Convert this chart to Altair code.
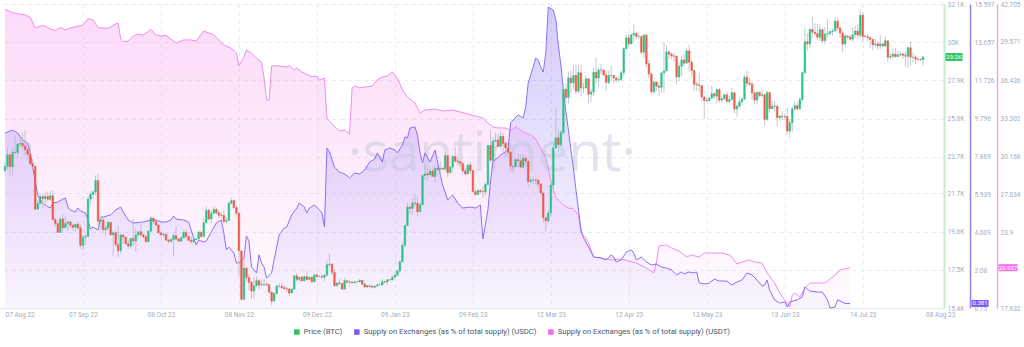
import altair as alt
import pandas as pd
import numpy as np

FONT = "Roboto"
START = pd.Timestamp("2022-08-07")

# ---------------- BTC daily candles (values in thousands USD) ----------------
close_aug22 = [23.18, 23.81, 23.16, 23.95, 23.94, 24.40, 24.44, 24.31, 24.10, 23.85,
               23.34, 23.19, 20.83, 21.14, 21.52, 21.40, 21.53, 21.37, 21.57, 20.26,
               20.04, 19.55, 20.29, 19.81, 20.05]
high_aug22 = [23.40, 24.23, 23.90, 24.13, 24.90, 24.45, 24.88, 25.05, 25.21, 24.23,
              24.43, 23.60, 23.21, 21.35, 21.68, 21.70, 21.80, 21.80, 21.80, 21.87,
              20.35, 20.14, 20.39, 20.54, 20.47]
low_aug22 = [22.86, 23.00, 22.66, 22.70, 23.85, 23.63, 24.22, 24.11, 23.81, 23.60,
             23.23, 23.11, 20.78, 20.80, 21.08, 20.92, 21.05, 21.16, 21.27, 20.20,
             19.86, 19.54, 19.63, 19.62, 19.81]

close_sep22 = [20.13, 19.95, 19.83, 20.00, 19.80, 18.84, 19.29, 19.32, 21.38, 21.65,
               21.78, 22.40, 20.17, 20.24, 19.70, 19.80, 20.11, 19.42, 19.54, 18.89,
               18.55, 19.41, 19.30, 18.93, 18.80, 19.22, 19.08, 19.41, 19.59, 19.42]
high_sep22 = [20.20, 20.20, 20.02, 20.02, 20.15, 20.00, 19.43, 19.45, 21.54, 21.80,
              21.85, 22.68, 22.78, 20.48, 20.33, 19.93, 20.18, 20.12, 19.64, 19.63,
              19.92, 19.49, 19.48, 19.31, 19.16, 19.26, 20.31, 19.75, 19.62, 20.13]
low_sep22 = [19.63, 19.76, 19.65, 19.60, 19.67, 18.68, 18.58, 18.87, 19.30, 21.08,
             21.40, 21.59, 19.92, 19.66, 19.55, 19.37, 19.66, 19.39, 18.27, 18.74,
             18.20, 18.40, 18.93, 18.92, 18.66, 18.68, 18.82, 18.52, 19.25, 19.31]

close_oct22 = [19.31, 19.04, 19.62, 20.34, 20.16, 19.96, 19.53, 19.42, 19.45, 19.13,
               19.06, 19.16, 19.38, 19.19, 19.07, 19.26, 19.55, 19.33, 19.12, 19.04,
               19.16, 19.20, 19.57, 19.33, 20.08, 20.77, 20.29, 20.60, 20.82, 20.63,
               20.50]
high_oct22 = [19.48, 19.40, 19.69, 20.45, 20.36, 20.06, 20.04, 19.60, 19.54, 19.51,
              19.25, 19.21, 19.51, 19.92, 19.22, 19.33, 19.68, 19.68, 19.37, 19.34,
              19.24, 19.26, 19.66, 19.59, 20.32, 21.00, 20.86, 20.74, 20.95, 20.90,
              20.79]
low_oct22 = [19.21, 19.01, 19.00, 19.58, 20.02, 19.88, 19.50, 19.35, 19.32, 19.11,
             18.93, 19.00, 18.21, 19.13, 19.05, 19.07, 19.20, 19.21, 19.08, 18.96,
             18.95, 19.14, 19.15, 19.25, 19.28, 20.05, 20.19, 20.06, 20.61, 20.55,
             20.32]

close_nov22 = [20.48, 20.15, 20.21, 21.15, 21.30, 20.91, 20.60, 18.54, 15.88, 17.59,
               17.07, 16.81, 16.33, 16.62, 16.90, 16.66, 16.69, 16.70, 16.68, 16.28,
               15.78, 16.19, 16.60, 16.60, 16.52, 16.46, 16.44, 16.22, 16.44, 17.17]
high_nov22 = [20.67, 20.78, 20.40, 21.26, 21.45, 21.36, 21.05, 20.67, 18.54, 18.13,
              17.65, 17.26, 16.87, 17.09, 17.13, 17.00, 16.96, 16.99, 16.82, 16.75,
              16.26, 16.26, 16.70, 16.77, 16.80, 16.67, 16.59, 16.48, 16.52, 17.20]
low_nov22 = [20.38, 20.06, 20.07, 20.19, 21.09, 20.88, 20.42, 17.17, 15.78, 15.82,
             16.89, 16.38, 15.90, 15.87, 16.56, 16.43, 16.59, 16.58, 16.57, 16.19,
             15.53, 15.76, 16.17, 16.50, 16.48, 16.41, 16.29, 16.04, 16.24, 16.43]

close_dec22 = [16.97, 17.09, 16.89, 17.13, 16.97, 17.09, 16.84, 17.22, 17.13, 17.13,
               17.09, 17.21, 17.78, 17.81, 17.36, 16.63, 16.78, 16.74, 16.44, 16.90,
               16.82, 16.83, 16.78, 16.84, 16.84, 16.92, 16.71, 16.55, 16.63, 16.60,
               16.54]
high_dec22 = [17.30, 17.10, 17.15, 17.18, 17.40, 17.11, 17.14, 17.27, 17.28, 17.22,
              17.26, 17.24, 18.00, 18.37, 17.85, 17.53, 16.80, 17.00, 16.80, 17.04,
              16.91, 16.92, 16.85, 16.87, 16.86, 16.99, 16.94, 16.77, 16.65, 16.63,
              16.63]
low_dec22 = [16.87, 16.81, 16.88, 16.88, 16.90, 16.91, 16.73, 16.82, 17.08, 17.08,
             17.02, 16.87, 17.10, 17.66, 17.20, 16.57, 16.56, 16.68, 16.40, 16.40,
             16.76, 16.59, 16.75, 16.79, 16.79, 16.81, 16.68, 16.54, 16.51, 16.48,
             16.47]

close_jan23 = [16.61, 16.67, 16.67, 16.85, 16.83, 16.95, 16.94, 17.09, 17.20, 17.44,
               17.94, 18.85, 19.93, 20.95, 20.87, 21.17, 21.16, 20.69, 21.07, 22.67,
               22.78, 22.71, 22.92, 22.63, 23.06, 23.01, 23.08, 23.03, 23.77, 22.84,
               23.14]
high_jan23 = [16.63, 16.76, 16.78, 16.99, 16.88, 16.99, 16.99, 17.18, 17.35, 17.49,
              18.00, 19.04, 19.99, 21.16, 20.99, 21.44, 21.65, 21.56, 21.18, 22.76,
              23.32, 23.06, 23.13, 23.12, 23.24, 23.26, 23.48, 23.13, 23.93, 23.79,
              23.21]
low_jan23 = [16.50, 16.55, 16.63, 16.61, 16.75, 16.67, 16.91, 16.91, 17.09, 17.12,
             17.31, 17.92, 18.72, 19.90, 20.58, 20.55, 20.99, 20.41, 20.68, 21.04,
             22.42, 22.40, 22.71, 22.57, 22.33, 22.87, 22.61, 22.94, 23.01, 22.60,
             22.74]

close_feb23 = [23.72, 23.47, 23.43, 23.33, 22.93, 22.76, 23.26, 22.95, 21.80, 21.63,
               21.86, 21.79, 21.77, 22.20, 24.33, 23.52, 24.57, 24.63, 24.28, 24.83,
               24.44, 24.19, 23.95, 23.20, 23.17, 23.55, 23.49, 23.14]
high_feb23 = [23.80, 24.23, 23.71, 23.56, 23.43, 23.04, 23.33, 23.43, 23.00, 21.92,
              21.91, 21.90, 22.05, 22.29, 24.36, 25.20, 24.80, 25.02, 24.98, 25.13,
              25.03, 24.53, 24.09, 23.99, 23.20, 23.66, 23.86, 23.84]
low_feb23 = [22.84, 23.37, 23.25, 23.28, 22.74, 22.66, 22.76, 22.78, 21.73, 21.54,
             21.60, 21.68, 21.42, 21.57, 22.09, 23.42, 23.40, 24.49, 24.26, 24.20,
             23.87, 23.69, 23.66, 22.86, 22.75, 23.07, 23.13, 23.07]

close_mar23 = [23.63, 23.47, 22.35, 22.43, 22.43, 22.41, 22.20, 21.72, 20.36, 20.19,
               20.63, 22.16, 24.20, 24.75, 24.38, 25.05, 27.42, 26.97, 28.04, 27.77,
               28.17, 27.31, 28.33, 27.49, 27.49, 27.99, 27.14, 27.27, 28.35, 28.03,
               28.48]
high_mar23 = [23.88, 23.77, 23.48, 22.53, 22.61, 22.55, 22.53, 22.25, 21.80, 20.37,
              20.79, 22.26, 24.57, 26.39, 25.22, 25.17, 27.74, 27.72, 28.39, 28.47,
              28.75, 28.77, 28.74, 28.77, 27.79, 28.19, 28.01, 27.42, 28.62, 29.16,
              28.63]
low_mar23 = [23.06, 23.25, 22.07, 22.25, 22.21, 22.20, 21.97, 21.60, 20.08, 19.60,
             20.05, 20.44, 21.95, 24.12, 23.96, 24.26, 24.93, 26.67, 26.62, 27.20,
             27.40, 27.12, 27.18, 27.01, 27.20, 27.47, 26.63, 26.71, 27.03, 27.73,
             27.58]

close_apr23 = [28.47, 28.20, 27.79, 28.17, 28.18, 28.04, 27.92, 27.95, 28.33, 29.65,
               30.24, 29.91, 30.40, 30.49, 30.32, 30.32, 29.45, 30.40, 28.82, 28.25,
               27.28, 27.82, 27.59, 27.52, 28.31, 28.42, 29.47, 29.34, 29.25, 29.23]
high_apr23 = [28.80, 28.49, 28.47, 28.43, 28.74, 28.18, 28.07, 28.16, 28.44, 29.74,
              30.42, 30.46, 30.48, 30.97, 30.59, 30.53, 30.31, 30.46, 30.37, 29.02,
              28.34, 27.85, 27.80, 27.78, 28.37, 30.00, 29.84, 29.55, 29.42, 29.45]
low_apr23 = [28.22, 28.14, 27.33, 27.70, 27.87, 27.73, 27.77, 27.84, 27.89, 28.14,
             29.60, 29.75, 29.88, 30.00, 30.17, 30.17, 29.31, 29.13, 28.63, 28.04,
             27.14, 27.16, 27.32, 27.05, 27.22, 27.24, 28.43, 29.05, 29.06, 28.92]

close_may23 = [28.09, 28.68, 29.03, 28.85, 29.53, 28.90, 28.45, 27.69, 27.66, 27.62,
               26.99, 26.80, 26.78, 26.93, 27.17, 27.03, 27.40, 26.82, 26.89, 27.12,
               26.75, 26.85, 27.23, 26.33, 26.48, 26.72, 26.87, 28.08, 27.75, 27.70,
               27.22]
high_may23 = [29.28, 28.88, 29.26, 29.37, 29.68, 29.82, 29.00, 28.49, 27.81, 28.32,
              27.63, 27.06, 26.99, 27.02, 27.62, 27.26, 27.46, 27.48, 27.04, 27.14,
              27.26, 27.05, 27.49, 27.23, 26.63, 26.91, 26.99, 28.21, 28.43, 28.04,
              27.83]
low_may23 = [27.67, 27.86, 28.13, 28.69, 28.80, 28.39, 28.11, 27.33, 27.34, 27.26,
             26.76, 25.81, 26.72, 26.77, 26.88, 26.87, 26.64, 26.69, 26.68, 26.84,
             26.67, 26.64, 26.83, 26.09, 25.91, 26.42, 26.57, 26.86, 27.56, 27.58,
             26.88]

close_jun23 = [26.82, 27.25, 27.07, 27.12, 25.76, 27.24, 26.35, 26.50, 26.48, 25.85,
               25.94, 25.90, 25.92, 25.12, 25.58, 26.34, 26.51, 26.34, 26.85, 28.33,
               30.03, 29.91, 30.70, 30.55, 30.47, 30.27, 30.69, 30.08, 30.45, 30.48]
high_jun23 = [27.35, 27.29, 27.30, 27.43, 27.13, 27.34, 27.14, 26.78, 26.79, 26.60,
              26.02, 26.21, 26.08, 26.39, 25.75, 26.46, 26.75, 26.69, 26.99, 28.40,
              30.76, 30.49, 30.80, 31.39, 31.04, 31.00, 30.99, 30.77, 30.84, 31.26]
low_jun23 = [26.57, 26.62, 26.98, 26.96, 25.44, 25.68, 26.13, 26.34, 26.17, 25.38,
             25.66, 25.73, 25.74, 24.93, 24.76, 25.08, 26.20, 26.24, 26.27, 26.69,
             28.27, 29.55, 29.66, 30.24, 30.34, 30.15, 30.07, 29.98, 29.89, 30.28]

close_jul23 = [30.59, 30.62, 31.16, 30.77, 30.51, 29.90, 30.35, 30.29, 30.17, 30.41,
               30.62, 30.39, 31.48, 30.32, 30.30, 30.25, 30.15, 29.86, 29.91, 29.80,
               29.91, 29.79, 30.08, 29.18, 29.23, 29.35, 29.21, 29.31, 29.35, 29.28,
               29.23]
high_jul23 = [30.65, 30.75, 31.38, 31.31, 30.88, 30.61, 30.44, 30.35, 30.42, 30.79,
              30.91, 30.98, 31.81, 31.63, 30.40, 30.44, 30.33, 30.20, 30.19, 30.05,
              30.41, 30.00, 30.33, 30.08, 29.37, 29.66, 29.68, 29.55, 29.52, 29.45,
              29.51]
low_jul23 = [30.35, 30.35, 30.58, 30.65, 30.23, 29.48, 29.75, 30.15, 30.09, 30.03,
             30.23, 30.22, 30.25, 30.02, 30.28, 30.05, 29.67, 29.56, 29.74, 29.61,
             29.63, 29.75, 29.77, 28.93, 29.08, 29.10, 29.16, 29.16, 29.21, 29.08,
             28.65]

close_aug23 = [29.70, 29.18, 29.18, 29.07, 29.05, 29.04, 29.19]
high_aug23 = [29.75, 30.04, 29.44, 29.30, 29.13, 29.14, 29.23]
low_aug23 = [28.60, 28.70, 28.91, 28.78, 28.99, 28.98, 28.70]

first_open = 22.95

close = (close_aug22 + close_sep22 + close_oct22 + close_nov22 + close_dec22 + close_jan23 +
         close_feb23 + close_mar23 + close_apr23 + close_may23 + close_jun23 + close_jul23 + close_aug23)
high = (high_aug22 + high_sep22 + high_oct22 + high_nov22 + high_dec22 + high_jan23 +
        high_feb23 + high_mar23 + high_apr23 + high_may23 + high_jun23 + high_jul23 + high_aug23)
low = (low_aug22 + low_sep22 + low_oct22 + low_nov22 + low_dec22 + low_jan23 +
       low_feb23 + low_mar23 + low_apr23 + low_may23 + low_jun23 + low_jul23 + low_aug23)

# ---------------- Supply on exchanges (% of total supply) ----------------
# day offsets from 07 Aug 22
usdc_day = [0, 3, 5, 7, 9, 10, 11, 12, 13, 15,
            16, 18, 19, 21, 23, 24, 25, 26, 28, 29,
            30, 32, 33, 34, 35, 37, 38, 39, 42, 44,
            46, 47, 49, 51, 55, 58, 60, 62, 64, 66,
            67, 68, 71, 73, 74, 76, 77, 79, 80, 82,
            84, 86, 87, 88, 89, 91, 92, 93, 95, 96,
            97, 98, 100, 101, 102, 103, 104, 106, 107, 108,
            109, 111, 112, 114, 116, 117, 119, 120, 121, 123,
            125, 126, 127, 128, 129, 131, 133, 135, 137, 139,
            141, 143, 145, 147, 148, 150, 151, 153, 155, 156,
            158, 159, 160, 161, 163, 164, 165, 166, 167, 169,
            171, 172, 174, 176, 178, 180, 182, 185, 187, 189,
            190, 192, 193, 194, 197, 200, 201, 202, 204, 206,
            207, 208, 210, 211, 212, 213, 214, 215, 216, 218,
            219, 220, 221, 222, 223, 224, 225, 226, 227, 228,
            229, 230, 232, 234, 237, 239, 241, 242, 243, 245,
            247, 249, 250, 251, 253, 255, 257, 259, 261, 263,
            265, 267, 269, 270, 272, 274, 275, 276, 278, 280,
            282, 284, 287, 289, 291, 293, 295, 297, 299, 301,
            302, 303, 304, 306, 308, 310, 311, 312, 315, 317,
            318, 320, 323, 325, 327, 328, 330, 331, 332, 334,
            336]
usdc_val = [9.04, 9.19, 9.04, 8.69, 8.53, 8.08, 7.31, 6.65, 5.89, 5.48,
            5.38, 5.23, 5.48, 5.53, 5.69, 5.74, 5.28, 5.13, 5.03, 5.23,
            5.08, 4.98, 4.62, 4.17, 4.27, 4.11, 4.77, 4.77, 4.88, 5.13,
            5.28, 5.03, 4.62, 4.47, 4.52, 4.62, 4.62, 4.52, 4.52, 4.62,
            4.82, 4.67, 4.62, 4.52, 4.11, 3.35, 3.60, 3.50, 3.55, 4.01,
            4.47, 4.62, 3.96, 3.10, 3.25, 2.94, 2.44, 2.44, 2.69, 3.81,
            3.55, 2.23, 1.93, 2.85, 2.44, 2.23, 1.67, 1.93, 2.59, 3.25,
            3.86, 4.21, 4.27, 4.88, 5.23, 5.48, 5.28, 4.98, 5.23, 5.38,
            5.13, 4.98, 4.27, 8.28, 8.08, 7.31, 7.06, 6.96, 6.76, 7.01,
            6.96, 7.16, 7.57, 7.72, 8.03, 7.57, 8.18, 8.28, 8.18, 8.03,
            8.43, 8.84, 8.79, 9.30, 9.35, 8.94, 8.03, 7.52, 8.03, 7.57,
            8.18, 7.52, 6.40, 5.64, 5.89, 5.48, 5.23, 5.28, 5.23, 5.38,
            3.66, 5.13, 6.55, 7.57, 7.92, 8.18, 9.55, 9.70, 9.96, 9.80,
            10.36, 11.58, 12.40, 12.85, 12.75, 12.40, 12.14, 13.11, 15.44, 15.29,
            14.78, 13.51, 12.50, 11.23, 10.11, 9.19, 8.18, 7.26, 6.15, 5.13,
            4.11, 3.71, 3.25, 2.74, 2.69, 2.59, 2.85, 2.74, 2.49, 2.59,
            2.99, 3.10, 2.94, 2.59, 2.74, 2.49, 2.33, 2.38, 2.23, 2.18,
            2.08, 1.83, 1.98, 1.88, 1.98, 1.93, 1.98, 1.42, 1.37, 1.42,
            1.62, 1.52, 1.52, 1.32, 1.47, 1.57, 1.93, 1.83, 1.57, 1.27,
            1.32, 1.57, 1.06, 0.56, 0.40, 0.46, 0.20, 0.46, 0.56, 0.71,
            1.22, 1.01, 0.96, 0.96, 0.56, 0.15, 0.20, 0.56, 0.51, 0.38,
            0.381]

usdt_day = [0, 3, 8, 10, 12, 15, 18, 20, 22, 24,
            26, 31, 33, 35, 37, 41, 44, 45, 46, 47,
            49, 51, 53, 55, 58, 60, 62, 64, 67, 68,
            71, 74, 76, 79, 83, 87, 90, 92, 93, 95,
            96, 98, 100, 102, 103, 104, 105, 106, 108, 112,
            113, 115, 116, 118, 122, 124, 125, 127, 128, 130,
            133, 135, 137, 138, 139, 141, 143, 146, 148, 150,
            152, 154, 156, 158, 160, 163, 164, 165, 167, 171,
            174, 178, 181, 184, 187, 190, 192, 194, 196, 199,
            201, 203, 206, 209, 211, 213, 215, 217, 219, 220,
            222, 224, 226, 228, 229, 231, 232, 234, 237, 241,
            245, 251, 255, 258, 259, 260, 263, 265, 268, 271,
            273, 276, 278, 281, 285, 288, 289, 291, 293, 296,
            298, 301, 303, 306, 308, 310, 312, 313, 314, 316,
            318, 320, 323, 326, 328, 330, 332, 334, 336]
usdt_val = [42.27, 41.99, 41.80, 41.63, 40.73, 40.95, 40.67, 40.50, 40.78, 40.56,
            40.73, 40.97, 41.49, 41.38, 40.75, 40.70, 41.06, 41.14, 39.82, 39.60,
            39.65, 40.07, 40.23, 40.15, 40.62, 40.15, 40.07, 40.12, 39.65, 39.49,
            39.74, 39.74, 39.65, 40.48, 40.15, 39.32, 39.05, 38.66, 37.59, 38.33,
            38.91, 38.66, 38.23, 37.92, 36.60, 34.79, 34.79, 37.59, 37.62, 37.51,
            37.62, 37.26, 37.43, 37.10, 36.71, 36.77, 36.44, 36.60, 33.30, 32.81,
            32.23, 32.31, 31.98, 35.78, 35.94, 35.78, 35.86, 35.94, 36.44, 36.68,
            36.77, 37.10, 36.60, 35.61, 35.03, 34.54, 34.13, 33.71, 33.96, 34.04,
            33.88, 33.96, 33.80, 33.63, 33.47, 33.30, 32.89, 32.56, 32.48, 32.48,
            32.31, 32.56, 32.15, 31.90, 31.57, 30.83, 30.09, 28.19, 26.70, 26.54,
            26.13, 25.88, 25.80, 25.30, 23.82, 23.40, 22.99, 21.84, 21.76, 21.59,
            21.67, 21.34, 20.93, 20.52, 21.43, 22.75, 22.83, 22.58, 22.33, 21.84,
            22.00, 21.84, 22.17, 22.17, 22.17, 22.00, 21.84, 21.26, 21.43, 21.59,
            21.43, 21.34, 20.52, 19.69, 18.87, 18.29, 17.71, 18.70, 18.87, 18.54,
            19.28, 19.69, 19.69, 19.69, 20.02, 20.35, 20.76, 20.85, 20.957]

# ---------------- axes ----------------
price_ticks = [32.1, 30, 27.9, 25.8, 23.7, 21.7, 19.6, 17.5, 15.4]
usdc_ticks = [15.597, 13.657, 11.726, 9.796, 7.869, 5.939, 4.009, 2.08, 0.15]
usdt_ticks = [42.705, 39.571, 36.436, 33.302, 30.168, 27.034, 23.9, 17.632]
x_tick_dates = [(2022, 8, 7), (2022, 9, 7), (2022, 10, 8), (2022, 11, 8), (2022, 12, 9),
                (2023, 1, 9), (2023, 2, 9), (2023, 3, 12), (2023, 4, 12), (2023, 5, 13),
                (2023, 6, 13), (2023, 7, 14), (2023, 8, 8)]

series_names = ["Price (BTC)",
                "Supply on Exchanges (as % of total supply) (USDC)",
                "Supply on Exchanges (as % of total supply) (USDT)"]
series_colors = ["#2bc45e", "#7b5cf2", "#f46ee8"]

GREEN = "#26c485"
RED = "#ef5b45"
WICK = "#b5b9cc"
USDC_LINE = "#8c6ff7"
USDT_LINE = "#f28cec"
LABEL_C = "#a5acc1"
GRID_C = "#e8eaf1"

# ---------------- data frames ----------------
dates = pd.date_range(START, periods=len(close), freq="D")
price_df = pd.DataFrame({"date": dates, "open": [first_open] + close[:-1],
                         "close": close, "high": high, "low": low})
price_df["dir"] = np.where(price_df["close"] >= price_df["open"], "up", "down")

usdc_df = pd.DataFrame({"date": START + pd.to_timedelta(usdc_day, unit="D"), "v": usdc_val})
usdt_df = pd.DataFrame({"date": START + pd.to_timedelta(usdt_day, unit="D"), "v": usdt_val})

# ---------------- scales / axes ----------------
x_scale = alt.Scale(domain=[alt.DateTime(year=2022, month=8, date=7),
                            alt.DateTime(year=2023, month=8, date=13, hours=8)])
edge_test = "datum.value <= time(datetime(2022, 7, 8)) || datum.value >= time(datetime(2023, 6, 30))"
x_axis = alt.Axis(
    values=[alt.DateTime(year=y, month=m, date=d) for (y, m, d) in x_tick_dates],
    format="%d %b %y", title=None, labelFont=FONT, labelFontSize=6.5, labelColor=LABEL_C,
    ticks=False, domainColor="#e4e6ee", domainWidth=1, labelPadding=3,
    labelFlush=False, labelOverlap=False,
    labelAlign={"condition": {"test": edge_test, "value": "left"}, "value": "center"},
    grid=True, gridColor=GRID_C, gridDash=[4, 4], gridWidth=1,
    gridOpacity={"condition": {"test": edge_test, "value": 0}, "value": 1},
)


def X():
    return alt.X("date:T", scale=x_scale, axis=x_axis)


price_scale = alt.Scale(domain=[15.4, 32.1], zero=False, nice=False)
usdc_scale = alt.Scale(domain=[0.15, 15.597], zero=False, nice=False)
usdt_scale = alt.Scale(domain=[17.632, 42.705], zero=False, nice=False)


def right_axis(values, offset, color, width, expr, grid=False, pad=3):
    return alt.Axis(orient="right", values=values, offset=offset, title=None,
                    labelExpr=expr, labelFont=FONT, labelFontSize=6.5, labelColor=LABEL_C,
                    labelAlign="left", labelPadding=pad, ticks=False, labelOverlap=False,
                    domainColor=color, domainWidth=width,
                    grid=grid, gridColor=GRID_C, gridDash=[4, 4], gridWidth=1)


price_axis = right_axis(price_ticks, 0, "#c3efcc", 2, "datum.value + 'K'", grid=True, pad=3)
usdc_axis = right_axis(usdc_ticks, 26, "#9b7ef8", 1.5, "'' + datum.value", pad=4)
usdt_axis = right_axis(usdt_ticks, 53, "#f0a3ec", 1.5, "'' + datum.value", pad=3)


def vgrad(c0, c1):
    return alt.Gradient(gradient="linear", x1=1, x2=1, y1=0, y2=1,
                        stops=[alt.GradientStop(color=c0, offset=0),
                               alt.GradientStop(color=c1, offset=1)])


# ---------------- layers ----------------
usdt_area = alt.Chart(usdt_df).mark_area(
    fill=vgrad("rgba(245,125,232,0.28)", "rgba(245,125,232,0.03)")
).encode(x=X(), y=alt.Y("v:Q", scale=usdt_scale, axis=None), y2=alt.datum(usdt_ticks[-1]))

usdc_area = alt.Chart(usdc_df).mark_area(
    fill=vgrad("rgba(135,105,245,0.34)", "rgba(135,105,245,0.04)")
).encode(x=X(), y=alt.Y("v:Q", scale=usdc_scale, axis=None), y2=alt.datum(usdc_ticks[-1]))

watermark = alt.Chart(pd.DataFrame({"t": ["·santiment·"]})).mark_text(
    font="Open Sans", fontSize=55, fontWeight=400, color="#c4cadf", opacity=0.5,
    align="center", baseline="alphabetic"
).encode(x=alt.value(492), y=alt.value(167), text="t:N")

usdt_line = alt.Chart(usdt_df).mark_line(color=USDT_LINE, strokeWidth=1).encode(
    x=X(), y=alt.Y("v:Q", scale=usdt_scale, axis=usdt_axis))

usdc_line = alt.Chart(usdc_df).mark_line(color=USDC_LINE, strokeWidth=1).encode(
    x=X(), y=alt.Y("v:Q", scale=usdc_scale, axis=usdc_axis))

dir_scale = alt.Scale(domain=["up", "down"], range=[GREEN, RED])

wick = alt.Chart(price_df).mark_rule(color=WICK, strokeWidth=0.8).encode(
    x=X(), y=alt.Y("low:Q", scale=price_scale, axis=None), y2="high:Q")

body = alt.Chart(price_df).mark_bar(width=1.6, strokeWidth=0.5).encode(
    x=X(), y=alt.Y("open:Q", scale=price_scale, axis=price_axis), y2="close:Q",
    fill=alt.Fill("dir:N", scale=dir_scale, legend=None),
    stroke=alt.Stroke("dir:N", scale=dir_scale, legend=None))


def tag(value, label, xpos, scale, color, path, size):
    df = pd.DataFrame({"v": [value], "label": [label]})
    box = alt.Chart(df).mark_point(shape=path, size=size, filled=True, opacity=1,
                                   color=color).encode(
        x=alt.value(xpos), y=alt.Y("v:Q", scale=scale, axis=None))
    txt = alt.Chart(df).mark_text(color="white", font=FONT, fontSize=6,
                                  align="center", baseline="middle").encode(
        x=alt.value(xpos), y=alt.Y("v:Q", scale=scale, axis=None), text="label:N")
    return [box, txt]


tags = []
tags += tag(close[-1], f"{close[-1]:.1f}K", 954, price_scale, "#33c466",
            "M-1,-0.47H1V0.47H-1Z", 289)
tags += tag(usdc_val[-1], f"{usdc_val[-1]}", 980, usdc_scale, "#7d5bf0",
            "M-1,-0.41H1V0.41H-1Z", 289)
tags += tag(usdt_val[-1], f"{usdt_val[-1]}", 1008, usdt_scale, "#f372e6",
            "M-1,-0.37H1V0.37H-1Z", 361)

legend_layer = alt.Chart(pd.DataFrame({"series": series_names})).mark_square(size=30).encode(
    x=alt.value(-200), y=alt.value(-200),
    color=alt.Color("series:N", scale=alt.Scale(domain=series_names, range=series_colors),
                    legend=alt.Legend(orient="none", legendX=293, legendY=324,
                                      direction="horizontal", title=None,
                                      symbolType="square", symbolSize=30,
                                      symbolStrokeWidth=0, symbolOpacity=1,
                                      labelFont=FONT, labelFontSize=7.7, labelLimit=400,
                                      labelColor="#4d5467", columnPadding=10,
                                      labelOffset=3)))

chart = alt.layer(
    usdt_area, usdc_area, watermark, usdt_line, usdc_line, wick, body,
    *tags, legend_layer
).resolve_scale(y="independent").properties(
    width=944, height=304,
    autosize=alt.AutoSizeParams(type="none"),
    padding={"left": 0, "top": 4, "right": 80, "bottom": 39},
    background="white",
).configure_view(stroke=None)

chart.save("out.html", embed_options={"renderer": "svg", "actions": False})
